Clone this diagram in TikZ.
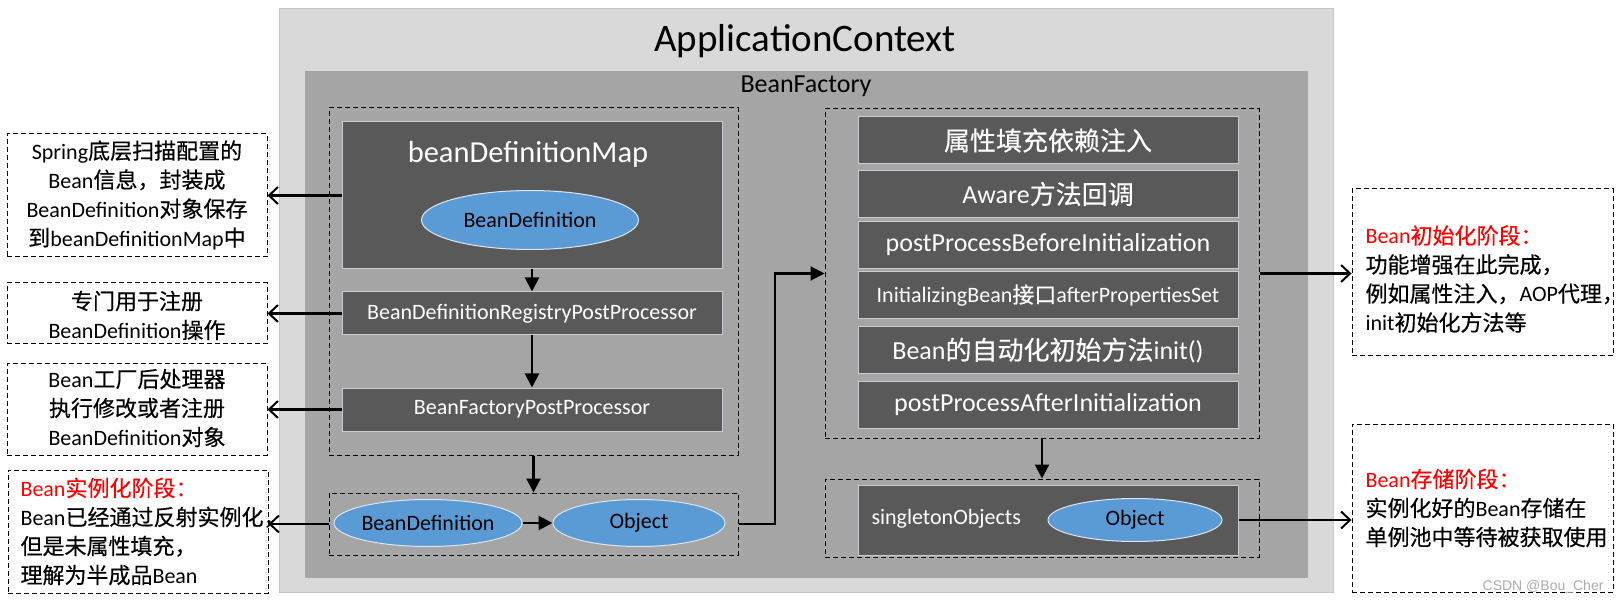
\documentclass[tikz,border=0pt]{standalone}
\usepackage{fontspec}
\setmainfont{Carlito}
\newfontfamily\cjk{Noto Sans CJK SC}[FakeBold=0.4]
\newfontfamily\wmfont{Liberation Sans}
\usetikzlibrary{arrows.meta,shapes.geometric,calc}
\newcommand\zh[1]{{\cjk #1}}
\definecolor{appgray}{HTML}{D9D9D9}
\definecolor{appedge}{HTML}{C4C4C4}
\definecolor{bfgray}{HTML}{A5A5A5}
\definecolor{darkbox}{HTML}{595959}
\definecolor{boxedge}{HTML}{C8CDD4}
\definecolor{ellblue}{HTML}{5B9BD5}
\definecolor{elledge}{HTML}{DCE6F0}
\definecolor{notered}{HTML}{FF0000}
\definecolor{wmgray}{HTML}{ADADAD}
\tikzset{
  fs/.style={font={\fontsize{#1pt}{29pt}\selectfont}},
  dbox/.style={draw=boxedge, line width=1pt, fill=darkbox, text=white, minimum width=380pt, inner sep=0pt},
  ell/.style={ellipse, draw=elledge, line width=1pt, fill=ellblue, text=black, inner sep=0pt},
  grp/.style={draw=black, line width=1pt, dash pattern=on 5pt off 3pt, inner sep=0pt},
  note/.style={draw=black, line width=1pt, dash pattern=on 5pt off 3pt, fill=white, minimum width=260pt, inner sep=0pt},
  flow/.style={line width=2.1pt, -{Triangle[length=14pt,width=14pt]}},
  info/.style={line width=2.1pt, -{Straight Barb[length=9pt,width=17pt,line width=2pt]}},
}
\begin{document}
\begin{tikzpicture}[x=1pt,y=-1pt]
\useasboundingbox (0,0) rectangle (1622,601);
% containers
\node[fill=appgray, draw=appedge, line width=1pt, minimum width=1054pt, minimum height=583pt, inner sep=0pt] (app) at (806,300.5) {};
\node[fill=bfgray, minimum width=1003pt, minimum height=507pt, inner sep=0pt] (bf) at (806.5,324.5) {};
\node[anchor=base, fs=39] (apptitle) at (805,52) {ApplicationContext};
\node[anchor=base, fs=26] (bftitle) at (806,93) {BeanFactory};
% dashed groups
\node[grp, minimum width=409pt, minimum height=347pt] (g1) at (533.5,281.5) {};
\node[grp, minimum width=409pt, minimum height=62pt] (g2) at (533.5,524) {};
\node[grp, minimum width=434pt, minimum height=329pt] (g3) at (1042,273.5) {};
\node[grp, minimum width=434pt, minimum height=78pt] (g4) at (1042,518) {};
% left column
\node[dbox, minimum height=147pt] (map) at (532,195.5) {};
\node[anchor=base, text=white, fs=30.5] (maptitle) at (528,163) {beanDefinitionMap};
\node[ell, minimum width=217pt, minimum height=59pt, fs=22] (mapbd) at (530,220) {BeanDefinition};
\node[dbox, minimum height=43pt, fs=22] (reg) at (532,313.5) {BeanDefinitionRegistryPostProcessor};
\node[dbox, minimum height=43pt, fs=22] (fpp) at (532,409.5) {BeanFactoryPostProcessor};
\node[ell, minimum width=172pt, minimum height=47pt, fs=22] (bd) at (428,523) {BeanDefinition};
\node[ell, minimum width=172pt, minimum height=47pt, fs=22] (obj) at (639,523) {Object};
% right column
\node[dbox, minimum height=47pt, fs=26] (r1) at (1048,140.5) {\zh{属性填充依赖注入}};
\node[dbox, minimum height=47pt, fs=26] (r2) at (1048,194) {Aware\zh{方法回调}};
\node[dbox, minimum height=47pt, fs=26] (r3) at (1048,245) {postProcessBeforeInitialization};
\node[dbox, minimum height=47pt, fs=22] (r4) at (1048,295.5) {InitializingBean\zh{接口}afterPropertiesSet};
\node[dbox, minimum height=47pt, fs=26] (r5) at (1048,350.5) {Bean\zh{的自动化初始方法}init()};
\node[dbox, minimum height=47pt, fs=26] (r6) at (1048,405) {postProcessAfterInitialization};
\node[dbox, minimum height=70pt] (sing) at (1048,520) {};
\node[anchor=west, text=white, fs=22] (singtext) at (868,519) {singletonObjects};
\node[ell, minimum width=174pt, minimum height=43pt, fs=22] (sobj) at (1135,520) {Object};
% left notes
\node[note, minimum height=123pt] (L1) at (137,195.5) {};
\node[align=center, fs=22] (L1t) at (137,195) {Spring\zh{底层扫描配置的}\\Bean\zh{信息，封装成}\\BeanDefinition\zh{对象保存}\\\zh{到}beanDefinitionMap\zh{中}};
\node[note, minimum height=61pt] (L2) at (137,313.5) {};
\node[align=center, fs=22] (L2t) at (137,315.5) {\zh{专门用于注册}\\BeanDefinition\zh{操作}};
\node[note, minimum height=91pt] (L3) at (137,409.5) {};
\node[align=center, fs=22] (L3t) at (137,408) {Bean\zh{工厂后处理器}\\\zh{执行修改或者注册}\\BeanDefinition\zh{对象}};
\node[note, minimum height=123pt] (L4) at (138,531.5) {};
\node[anchor=west, align=left, fs=22] (L4t) at (17,531.5) {\textcolor{notered}{Bean\zh{实例化阶段：}}\\Bean\zh{已经通过反射实例化，}\\\zh{但是未属性填充，}\\\zh{理解为半成品}Bean};
% right notes
\node[note, minimum width=261pt, minimum height=167pt] (R1) at (1482.5,272.5) {};
\node[anchor=west, align=left, fs=22] (R1t) at (1362,279) {\textcolor{notered}{Bean\zh{初始化阶段：}}\\\zh{功能增强在此完成，}\\\zh{例如属性注入，}AOP\zh{代理，}\\init\zh{初始化方法等}};
\node[note, minimum width=261pt, minimum height=168pt] (R2) at (1482.5,508) {};
\node[anchor=west, align=left, fs=22] (R2t) at (1362,508) {\textcolor{notered}{Bean\zh{存储阶段：}}\\\zh{实例化好的}Bean\zh{存储在}\\\zh{单例池中等待被获取使用}};
\node[anchor=base east, font={\wmfont\fontsize{14pt}{16pt}\selectfont}, text=wmgray] (wm) at (1607,590) {CSDN @Bou\_Cher};
% connectors
\draw[info] (map.west) -- (L1.east);
\draw[info] (reg.west) -- (L2.east);
\draw[info] (fpp.west) -- (L3.east);
\draw[info] (g2.west) -- (g2.west -| L4.east);
\draw[flow] (map.south) -- (reg.north);
\draw[flow] (reg.south) -- (fpp.north);
\draw[flow] (g1.south) -- (g2.north);
\draw[flow] (bd.east) -- (obj.west);
\coordinate (turn) at (775,273.5);
\draw[flow] (g2.east) -| (turn) -- (g3.west);
\draw[flow] (g3.south) -- (g4.north);
\draw[info] (g3.east) -- (g3.east -| R1.west);
\draw[info] (sing.east) -- (sing.east -| R2.west);
\end{tikzpicture}
\end{document}
